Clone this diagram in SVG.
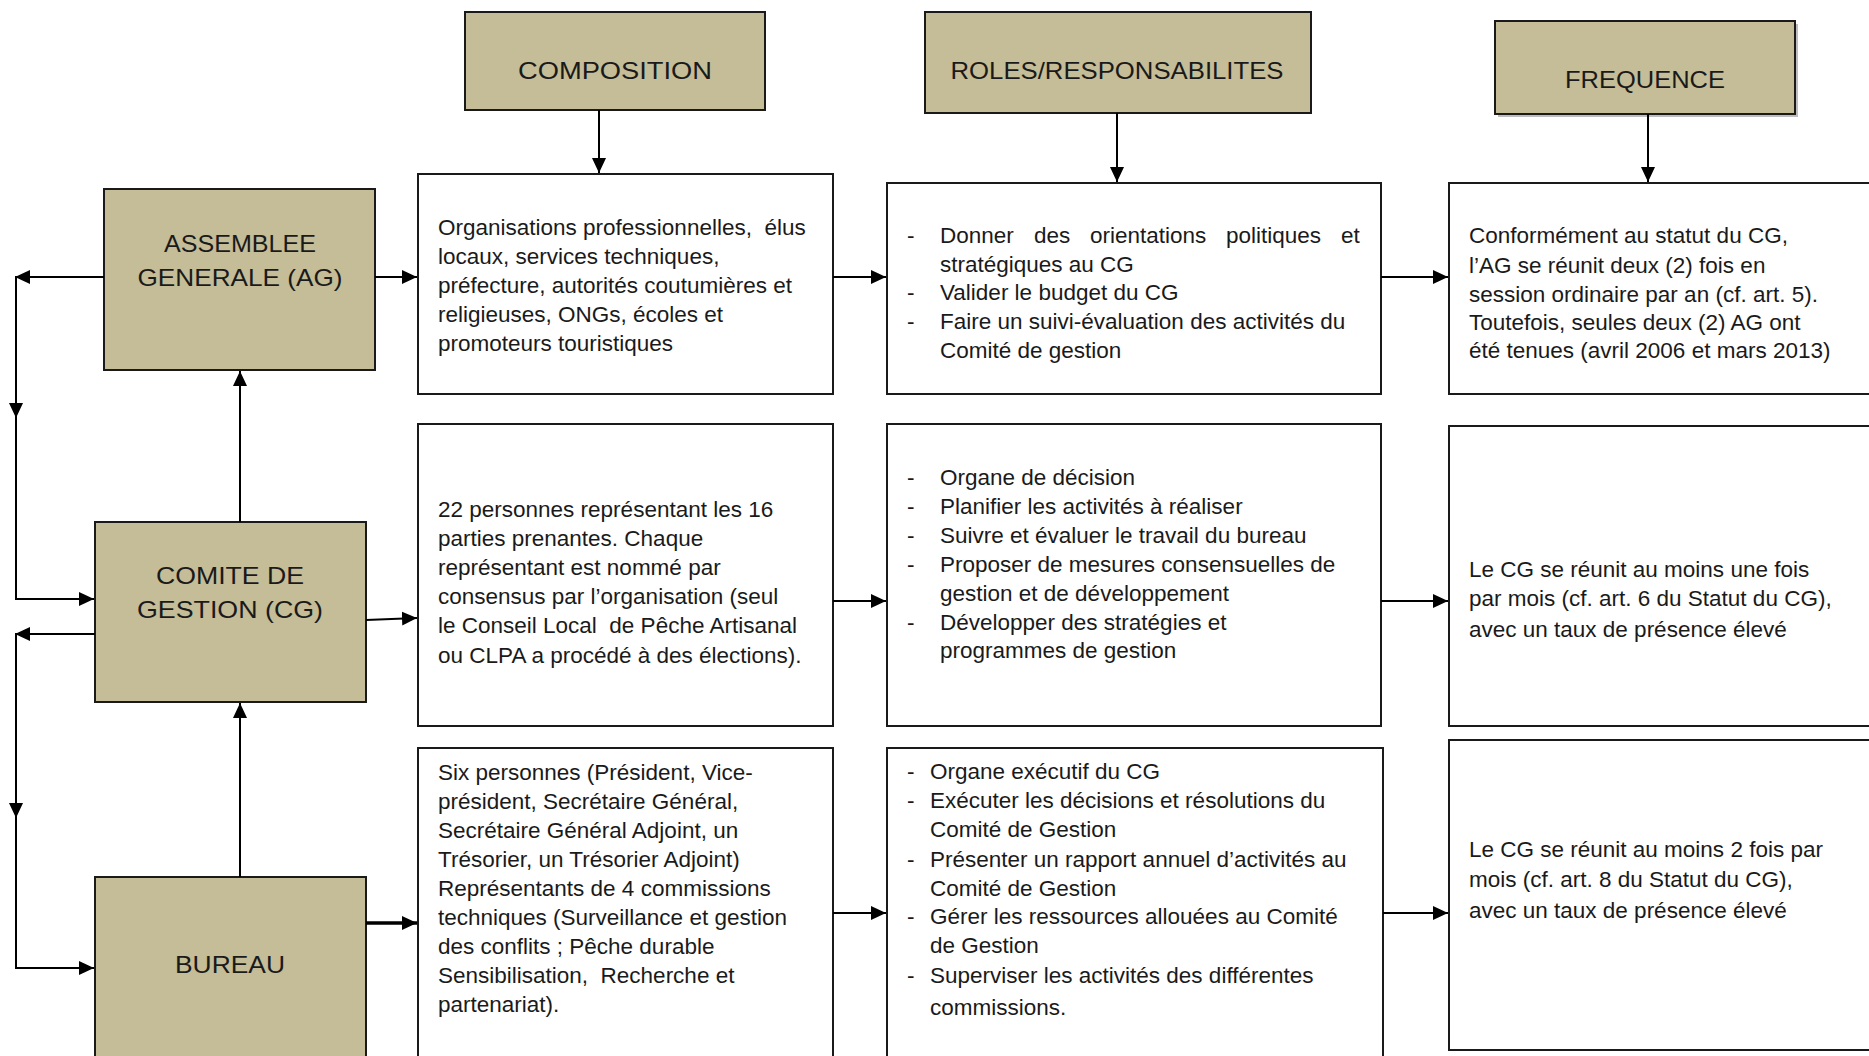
<svg xmlns="http://www.w3.org/2000/svg" width="1869" height="1056" viewBox="0 0 1869 1056">
  <style>
    .hdr { fill: #C4BD97; stroke: #1a1a1a; stroke-width: 2; }
    .box { fill: #ffffff; stroke: #1a1a1a; stroke-width: 2; }
    .shadow { fill: #bdbdbd; }
    .ht { font-family: "Liberation Sans", Arial, sans-serif; font-size: 24px; fill: #1a1a1a; text-anchor: middle; }
    .bt { font-family: "Liberation Sans", Arial, sans-serif; font-size: 22.5px; fill: #1a1a1a; white-space: pre; }
    .ln { fill: none; stroke: #000; stroke-width: 2; }
    .thick { stroke-width: 3.5; }
  </style>
  <defs>
    <marker id="arr" markerUnits="userSpaceOnUse" markerWidth="16" markerHeight="16" viewBox="0 0 16 16" refX="15" refY="8" orient="auto">
      <path d="M0,1 L15,8 L0,15 Z" fill="#000"/>
    </marker>
  </defs>

  <rect width="1869" height="1056" fill="#ffffff"/>

  <!-- column headers -->
  <g id="h-composition">
    <rect class="hdr" x="465" y="12" width="300" height="98"/>
    <text class="ht" x="615" y="79" textLength="194" lengthAdjust="spacingAndGlyphs">COMPOSITION</text>
  </g>
  <g id="h-roles">
    <rect class="hdr" x="925" y="12" width="386" height="101"/>
    <text class="ht" x="1117" y="79" textLength="333" lengthAdjust="spacingAndGlyphs">ROLES/RESPONSABILITES</text>
  </g>
  <g id="h-frequence">
    <rect class="shadow" x="1498" y="24" width="300" height="93"/>
    <rect class="hdr" x="1495" y="21" width="300" height="93"/>
    <text class="ht" x="1645" y="88" textLength="160" lengthAdjust="spacingAndGlyphs">FREQUENCE</text>
  </g>

  <!-- organs -->
  <g id="n-ag">
    <rect class="hdr" x="104" y="189" width="271" height="181"/>
    <text class="ht" x="240" y="252" textLength="152" lengthAdjust="spacingAndGlyphs">ASSEMBLEE</text>
    <text class="ht" x="240" y="286" textLength="205" lengthAdjust="spacingAndGlyphs">GENERALE (AG)</text>
  </g>
  <g id="n-cg">
    <rect class="hdr" x="95" y="522" width="271" height="180"/>
    <text class="ht" x="230" y="584" textLength="148" lengthAdjust="spacingAndGlyphs">COMITE DE</text>
    <text class="ht" x="230" y="618" textLength="186" lengthAdjust="spacingAndGlyphs">GESTION (CG)</text>
  </g>
  <g id="n-bureau">
    <rect class="hdr" x="95" y="877" width="271" height="190"/>
    <text class="ht" x="230" y="973" textLength="110" lengthAdjust="spacingAndGlyphs">BUREAU</text>
  </g>

  <!-- composition column -->
  <g id="c-ag">
    <rect class="box" x="418" y="174" width="415" height="220"/>
    <text class="bt" x="438" y="235" xml:space="preserve">Organisations professionnelles,  élus</text>
    <text class="bt" x="438" y="264">locaux, services techniques,</text>
    <text class="bt" x="438" y="293">préfecture, autorités coutumières et</text>
    <text class="bt" x="438" y="322">religieuses, ONGs, écoles et</text>
    <text class="bt" x="438" y="351">promoteurs touristiques</text>
  </g>
  <g id="c-cg">
    <rect class="box" x="418" y="424" width="415" height="302"/>
    <text class="bt" x="438" y="517">22 personnes représentant les 16</text>
    <text class="bt" x="438" y="546">parties prenantes. Chaque</text>
    <text class="bt" x="438" y="575">représentant est nommé par</text>
    <text class="bt" x="438" y="604">consensus par l’organisation (seul</text>
    <text class="bt" x="438" y="633" xml:space="preserve">le Conseil Local  de Pêche Artisanal</text>
    <text class="bt" x="438" y="663">ou CLPA a procédé à des élections).</text>
  </g>
  <g id="c-bureau">
    <rect class="box" x="418" y="748" width="415" height="320"/>
    <text class="bt" x="438" y="780">Six personnes (Président, Vice-</text>
    <text class="bt" x="438" y="809">président, Secrétaire Général,</text>
    <text class="bt" x="438" y="838">Secrétaire Général Adjoint, un</text>
    <text class="bt" x="438" y="867">Trésorier, un Trésorier Adjoint)</text>
    <text class="bt" x="438" y="896">Représentants de 4 commissions</text>
    <text class="bt" x="438" y="925">techniques (Surveillance et gestion</text>
    <text class="bt" x="438" y="954">des conflits ; Pêche durable</text>
    <text class="bt" x="438" y="983" xml:space="preserve">Sensibilisation,  Recherche et</text>
    <text class="bt" x="438" y="1012">partenariat).</text>
  </g>

  <!-- roles column -->
  <g id="r-ag">
    <rect class="box" x="887" y="183" width="494" height="211"/>
    <text class="bt" x="907" y="243">-</text>
    <!-- justified first line: words placed one by one -->
    <text class="bt" y="243"><tspan x="940">Donner</tspan><tspan x="1034">des</tspan><tspan x="1090">orientations</tspan><tspan x="1226">politiques</tspan><tspan x="1341">et</tspan></text>
    <text class="bt" x="940" y="272">stratégiques au CG</text>
    <text class="bt" x="907" y="300">-</text>
    <text class="bt" x="940" y="300">Valider le budget du CG</text>
    <text class="bt" x="907" y="329">-</text>
    <text class="bt" x="940" y="329">Faire un suivi-évaluation des activités du</text>
    <text class="bt" x="940" y="358">Comité de gestion</text>
  </g>
  <g id="r-cg">
    <rect class="box" x="887" y="424" width="494" height="302"/>
    <text class="bt" x="907" y="485">-</text>
    <text class="bt" x="940" y="485">Organe de décision</text>
    <text class="bt" x="907" y="514">-</text>
    <text class="bt" x="940" y="514">Planifier les activités à réaliser</text>
    <text class="bt" x="907" y="543">-</text>
    <text class="bt" x="940" y="543">Suivre et évaluer le travail du bureau</text>
    <text class="bt" x="907" y="572">-</text>
    <text class="bt" x="940" y="572">Proposer de mesures consensuelles de</text>
    <text class="bt" x="940" y="601">gestion et de développement</text>
    <text class="bt" x="907" y="630">-</text>
    <text class="bt" x="940" y="630">Développer des stratégies et</text>
    <text class="bt" x="940" y="658">programmes de gestion</text>
  </g>
  <g id="r-bureau">
    <rect class="box" x="887" y="748" width="496" height="320"/>
    <text class="bt" x="907" y="779">-</text>
    <text class="bt" x="930" y="779">Organe exécutif du CG</text>
    <text class="bt" x="907" y="808">-</text>
    <text class="bt" x="930" y="808">Exécuter les décisions et résolutions du</text>
    <text class="bt" x="930" y="837">Comité de Gestion</text>
    <text class="bt" x="907" y="867">-</text>
    <text class="bt" x="930" y="867">Présenter un rapport annuel d’activités au</text>
    <text class="bt" x="930" y="896">Comité de Gestion</text>
    <text class="bt" x="907" y="924">-</text>
    <text class="bt" x="930" y="924">Gérer les ressources allouées au Comité</text>
    <text class="bt" x="930" y="953">de Gestion</text>
    <text class="bt" x="907" y="983">-</text>
    <text class="bt" x="930" y="983">Superviser les activités des différentes</text>
    <text class="bt" x="930" y="1015">commissions.</text>
  </g>

  <!-- frequency column -->
  <g id="f-ag">
    <rect class="box" x="1449" y="183" width="440" height="211"/>
    <text class="bt" x="1469" y="243">Conformément au statut du CG,</text>
    <text class="bt" x="1469" y="273">l’AG se réunit deux (2) fois en</text>
    <text class="bt" x="1469" y="302">session ordinaire par an (cf. art. 5).</text>
    <text class="bt" x="1469" y="330">Toutefois, seules deux (2) AG ont</text>
    <text class="bt" x="1469" y="358">été tenues (avril 2006 et mars 2013)</text>
  </g>
  <g id="f-cg">
    <rect class="box" x="1449" y="426" width="440" height="300"/>
    <text class="bt" x="1469" y="577">Le CG se réunit au moins une fois</text>
    <text class="bt" x="1469" y="606">par mois (cf. art. 6 du Statut du CG),</text>
    <text class="bt" x="1469" y="637">avec un taux de présence élevé</text>
  </g>
  <g id="f-bureau">
    <rect class="box" x="1449" y="740" width="440" height="310"/>
    <text class="bt" x="1469" y="857">Le CG se réunit au moins 2 fois par</text>
    <text class="bt" x="1469" y="887">mois (cf. art. 8 du Statut du CG),</text>
    <text class="bt" x="1469" y="918">avec un taux de présence élevé</text>
  </g>

  <!-- connectors -->
  <g id="connectors">
    <line class="ln" x1="599" y1="110" x2="599" y2="173" marker-end="url(#arr)"/>
    <line class="ln" x1="1117" y1="113" x2="1117" y2="182" marker-end="url(#arr)"/>
    <line class="ln" x1="1648" y1="114" x2="1648" y2="182" marker-end="url(#arr)"/>

    <line class="ln" x1="375" y1="277" x2="417" y2="277" marker-end="url(#arr)"/>
    <line class="ln" x1="833" y1="277" x2="886" y2="277" marker-end="url(#arr)"/>
    <line class="ln" x1="1381" y1="277" x2="1448" y2="277" marker-end="url(#arr)"/>

    <line class="ln" x1="366" y1="620" x2="417" y2="618" marker-end="url(#arr)"/>
    <line class="ln" x1="833" y1="601" x2="886" y2="601" marker-end="url(#arr)"/>
    <line class="ln" x1="1381" y1="601" x2="1448" y2="601" marker-end="url(#arr)"/>

    <line class="ln thick" x1="366" y1="923" x2="417" y2="923" marker-end="url(#arr)"/>
    <line class="ln" x1="833" y1="913" x2="886" y2="913" marker-end="url(#arr)"/>
    <line class="ln" x1="1383" y1="913" x2="1448" y2="913" marker-end="url(#arr)"/>

    <!-- upward reporting lines -->
    <line class="ln" x1="240" y1="522" x2="240" y2="371" marker-end="url(#arr)"/>
    <line class="ln" x1="240" y1="877" x2="240" y2="703" marker-end="url(#arr)"/>

    <!-- left loops -->
    <line class="ln" x1="104" y1="277" x2="15" y2="277" marker-end="url(#arr)"/>
    <line class="ln" x1="16" y1="277" x2="16" y2="418" marker-end="url(#arr)"/>
    <polyline class="ln" points="16,417 16,599 94,599" marker-end="url(#arr)"/>
    <line class="ln" x1="95" y1="634" x2="15" y2="634" marker-end="url(#arr)"/>
    <line class="ln" x1="16" y1="634" x2="16" y2="818" marker-end="url(#arr)"/>
    <polyline class="ln" points="16,817 16,968 94,968" marker-end="url(#arr)"/>
  </g>
</svg>
